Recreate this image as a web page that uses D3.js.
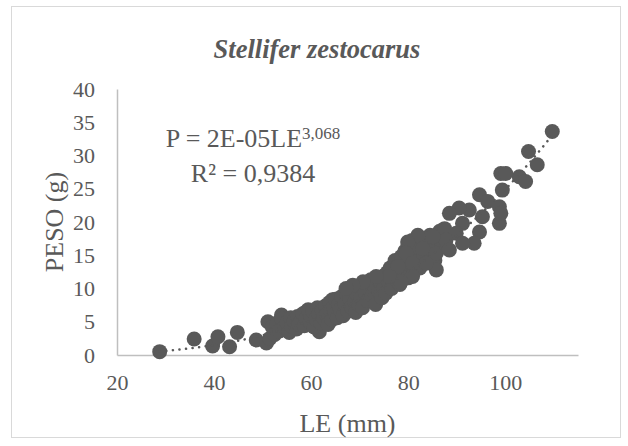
<!DOCTYPE html>
<html>
<head>
<meta charset="utf-8">
<script src="https://cdn.jsdelivr.net/npm/d3@7"></script>
<style>
  body { margin: 0; background: #fff; }
  text { font-family: "Liberation Serif", "Times New Roman", serif; fill: #595959; }
</style>
</head>
<body>
<div id="chart"></div>
<script>
// LE (mm) and PESO (g)
const le = [28.8, 35.9, 39.7, 40.8, 43.2, 44.8, 48.7, 50.8, 51.1, 53.9, 54.9, 59, 61.7, 64.4,
  51.5, 52, 52.5, 53, 53.5, 54, 54.5, 55, 55.5, 55.8,
  56, 56.5, 57, 57.2, 57.5, 58, 58.3, 58.6, 59, 59.4, 59.8, 60,
  60.3, 60.6, 61, 61.3, 61.6, 62, 62.3, 62.6, 63, 63.2, 63.5, 63.8, 64, 64.3, 64.6, 65, 65,
  65.4, 65.7, 66, 66.3, 66.6, 67, 67.3, 67.6, 68, 68.3, 68.6, 69, 69.2, 69.5, 69.8, 70,
  70.3, 70.6, 71, 71.3, 71.6, 72, 72.3, 72.6, 73, 73.3, 73.6, 74, 74.3, 74.6, 75, 75,
  75.4, 75.7, 76, 76.3, 76.6, 77, 77.3, 77.6, 78, 78.3, 78.6, 79, 79.3, 79.6, 80, 80,
  80.4, 80.8, 81.2, 81.5, 82, 82.4, 82.8, 83.2, 83.6, 84, 84.5, 85, 85.5, 86, 86.5, 87, 87.5,
  109.7, 104.8, 106.6, 99.1, 102.9, 104.2, 100.1, 99.4, 94.7, 96.4, 98.8, 98.8, 99.1, 95.3,
  92.6, 90.5, 88.5, 91.2, 94.7, 93.6, 89.9, 87.8, 85.1, 82, 79.9, 79.6, 83, 85.8, 88.5, 91.2,
  85.8, 83.7, 80.9, 77.9, 80.9, 78.5, 76.1, 73.4, 70.7, 68.6, 67.2];
const peso = [0.5, 2.4, 1.35, 2.75, 1.25, 3.4, 2.25, 1.8, 5.0, 6.0, 3.75, 6.5, 3.5, 8.3,
  2.5, 4.2, 3.1, 4.8, 3.6, 5.4, 4.2, 4.9, 3.4, 5.6,
  4.3, 5.1, 3.9, 5.8, 4.6, 5.2, 6.2, 4.4, 5.5, 6.8, 4.9, 5.8,
  6.6, 4.2, 5.4, 7.1, 6.2, 4.8, 6.7, 5.6, 7.4, 6.1, 4.6, 7.9, 6.6, 5.3, 7.2, 8.4, 6.2,
  5.6, 7.6, 6.8, 8.8, 5.9, 7.7, 9.2, 6.6, 8.4, 7.2, 9.6, 8.0, 6.4, 9.1, 7.6, 10.2,
  8.6, 7.1, 9.6, 10.8, 8.2, 9.9, 11.3, 8.9, 10.4, 7.6, 11.6, 9.6, 10.9, 8.6, 11.9, 10.1,
  9.3, 12.4, 11.0, 13.1, 10.0, 12.1, 14.2, 11.3, 13.4, 10.6, 14.8, 12.6, 15.6, 13.6, 11.6, 16.6,
  14.6, 17.2, 12.6, 15.2, 16.2, 13.1, 17.5, 14.6, 16.8, 15.6, 18.0, 16.3, 14.2, 17.6, 18.6, 16.6, 19.0,
  33.6, 30.6, 28.6, 27.3, 26.8, 26.1, 27.3, 24.8, 24.1, 23.1, 22.3, 19.8, 21.3, 20.8,
  21.8, 22.1, 21.3, 19.8, 18.5, 16.8, 18.3, 17.3, 17.8, 18.0, 17.0, 15.3, 16.0, 15.3, 15.8, 16.8,
  12.8, 13.8, 13.8, 13.3, 11.8, 11.0, 11.8, 11.8, 11.0, 10.5, 10.0];

const xTicks = [20, 40, 60, 80, 100];
const yTicks = [0, 5, 10, 15, 20, 25, 30, 35, 40];

// power trendline P = a * LE^b
const fitA = 1.82e-5, fitB = 3.068;

const W = 628, H = 446;
const mLeft = 117, mRight = 578, mTop = 89, mBottom = 355;

const svg = d3.select("#chart").append("svg")
    .attr("width", W)
    .attr("height", H);

svg.append("rect")
    .attr("x", 11.5).attr("y", 6.5)
    .attr("width", 609).attr("height", 431)
    .attr("fill", "#fff")
    .attr("stroke", "#d9d9d9")
    .attr("stroke-width", 1);

const x = d3.scaleLinear().domain([20, 115]).range([mLeft, mRight]);
const y = d3.scaleLinear().domain([0, 40]).range([mBottom, mTop]);

const gx = svg.append("g")
    .attr("transform", "translate(0," + mBottom + ")")
    .call(d3.axisBottom(x).tickValues(xTicks).tickSize(0).tickPadding(19));
const gy = svg.append("g")
    .attr("transform", "translate(" + mLeft + ",0)")
    .call(d3.axisLeft(y).tickValues(yTicks).tickSize(0).tickPadding(22));

[gx, gy].forEach(function(g){
  g.select(".domain").attr("stroke", "#bfbfbf").attr("stroke-width", 1.5);
  g.selectAll("text")
    .attr("fill", "#595959")
    .style("font-family", "'Liberation Serif', 'Times New Roman', serif")
    .style("font-size", "22px");
});
gx.selectAll("text").attr("dy", "0.71em");

const pts = le.map(function(d, i){ return {le: d, p: peso[i]}; });

svg.append("g").selectAll("circle")
    .data(pts)
    .enter()
    .append("circle")
    .attr("cx", function(d){ return x(d.le); })
    .attr("cy", function(d){ return y(d.p); })
    .attr("r", 7.5)
    .attr("fill", "#595959");

// trendline over the data range
const lo = d3.min(le), hi = d3.max(le);
const trend = d3.range(0, 101).map(function(i){
  const v = lo + (hi - lo) * i / 100;
  return [v, fitA * Math.pow(v, fitB)];
});
svg.append("path")
    .attr("d", d3.line().x(function(d){ return x(d[0]); }).y(function(d){ return y(d[1]); })(trend))
    .attr("fill", "none")
    .attr("stroke", "#595959")
    .attr("stroke-width", 2.5)
    .attr("stroke-linecap", "round")
    .attr("stroke-dasharray", "0.1 6.5");

svg.append("text")
    .attr("x", 317).attr("y", 58)
    .attr("text-anchor", "middle")
    .style("font-size", "26.5px")
    .style("font-weight", "bold")
    .style("font-style", "italic")
    .text("Stellifer zestocarus");

const eq = svg.append("text")
    .attr("x", 253).attr("y", 147)
    .attr("text-anchor", "middle")
    .style("font-size", "26px");
eq.append("tspan").text("P = 2E-05LE");
eq.append("tspan").attr("dy", -8).style("font-size", "17px").text("3,068");

svg.append("text")
    .attr("x", 253).attr("y", 182)
    .attr("text-anchor", "middle")
    .style("font-size", "26px")
    .text("R² = 0,9384");

svg.append("text")
    .attr("x", (mLeft + mRight) / 2).attr("y", 432)
    .attr("text-anchor", "middle")
    .style("font-size", "26px")
    .text("LE (mm)");

svg.append("text")
    .attr("transform", "translate(63," + ((mTop + mBottom) / 2) + ") rotate(-90)")
    .attr("text-anchor", "middle")
    .style("font-size", "26px")
    .text("PESO (g)");
</script>
</body>
</html>
